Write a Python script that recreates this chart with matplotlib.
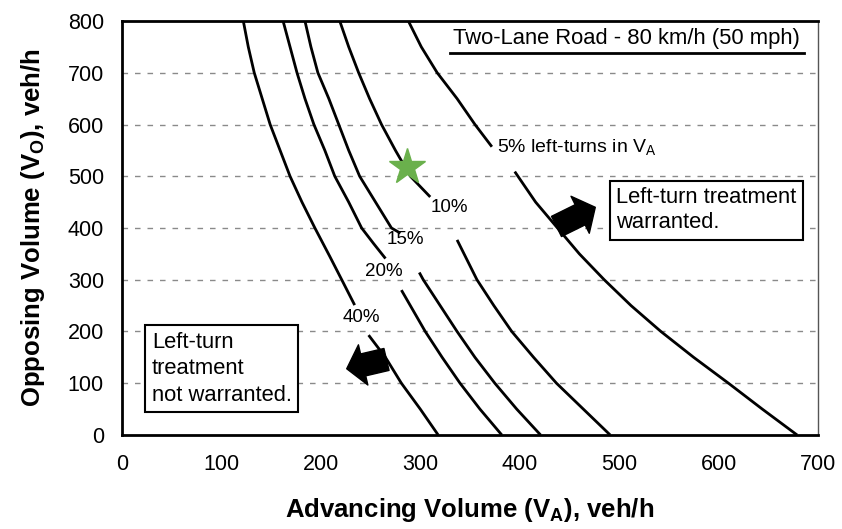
import matplotlib
matplotlib.use("Agg")
import matplotlib.pyplot as plt

plt.rcParams["font.family"] = ["Liberation Sans", "DejaVu Sans"]

# curves: (V_A, V_O) points, split where the label sits
CURVES = {
    "40%": [
        ([122, 127, 133, 141, 149, 159, 169, 181, 194, 209, 221, 234],
         [800, 750, 700, 650, 600, 550, 500, 450, 400, 345, 300, 251]),
        ([248, 265, 281, 300, 318], [193, 150, 100, 50, 0]),
    ],
    "20%": [
        ([162, 169, 176, 184, 193, 204, 214, 228, 241, 253, 265],
         [800, 750, 700, 650, 600, 550, 500, 450, 400, 370, 341]),
        ([281, 290, 305, 322, 340, 360, 382], [280, 250, 200, 150, 100, 50, 0]),
    ],
    "15%": [
        ([184, 190, 197, 208, 218, 228, 239, 255, 271, 280],
         [800, 750, 700, 650, 600, 550, 500, 450, 400, 390]),
        ([299, 303, 320, 337, 355, 375, 397, 421], [314, 300, 250, 200, 150, 100, 50, 0]),
    ],
    "10%": [
        ([219, 228, 238, 249, 261, 275, 290, 310], [800, 750, 700, 650, 600, 550, 500, 460]),
        ([337, 357, 374, 392, 414, 437, 464, 491], [377, 300, 250, 200, 150, 100, 50, 0]),
    ],
    "5%": [
        ([288, 301, 317, 337, 355, 372], [800, 750, 700, 650, 600, 557]),
        ([395, 416, 438, 460, 485, 512, 542, 575, 610, 644, 679],
         [509, 450, 400, 350, 300, 250, 200, 150, 100, 50, 0]),
    ],
}
LABEL_POS = {
    "40%": (241, 228),
    "20%": (263, 316),
    "15%": (285, 377),
    "10%": (329, 439),
}
STAR = (287, 518)
X_TICKS = [0, 100, 200, 300, 400, 500, 600, 700]
Y_TICKS = [0, 100, 200, 300, 400, 500, 600, 700, 800]

fig = plt.figure(figsize=(8.42, 5.29), dpi=100)
ax = fig.add_axes([0.1449, 0.1777, 0.8266, 0.7826])

for y in Y_TICKS[1:-1]:
    ax.axhline(y, color="#8a8a8a", linestyle=(0, (4, 5)), linewidth=1.0, zorder=1)

for name, segs in CURVES.items():
    for xs, ys in segs:
        ax.plot(xs, ys, color="black", linewidth=2.0, zorder=3,
                solid_capstyle="butt", solid_joinstyle="round")

for name, (x, y) in LABEL_POS.items():
    ax.text(x, y, name, fontsize=13.5, ha="center", va="center", zorder=4)

ax.text(377, 555, "5% left-turns in V$_\\mathregular{A}$", fontsize=14,
        ha="left", va="center", zorder=4)

ax.plot(*STAR, marker="*", markersize=27, color="#6ab04c", markeredgecolor="#6ab04c",
        zorder=5)

# title with underline
ax.text(507, 767, "Two-Lane Road - 80 km/h (50 mph)", fontsize=15.8, ha="center",
        va="center")
ax.plot([330, 686], [738, 738], color="black", linewidth=2.0)

ax.text(497, 434, "Left-turn treatment\nwarranted.", fontsize=15.8, ha="left",
        va="center", linespacing=1.25,
        bbox=dict(boxstyle="square,pad=0.3", facecolor="white", edgecolor="black",
                  linewidth=1.5))
ax.text(30, 128, "Left-turn\ntreatment\nnot warranted.", fontsize=15.8, ha="left",
        va="center", linespacing=1.35,
        bbox=dict(boxstyle="square,pad=0.3", facecolor="white", edgecolor="black",
                  linewidth=1.5))

arrow = "simple,head_length=0.45,head_width=1.1,tail_width=0.6"
ax.annotate("", xy=(476, 440), xytext=(437, 403),
            arrowprops=dict(arrowstyle=arrow, color="black", mutation_scale=27,
                            shrinkA=0, shrinkB=0), zorder=4)
ax.annotate("", xy=(226, 128), xytext=(266, 146),
            arrowprops=dict(arrowstyle=arrow, color="black", mutation_scale=27,
                            shrinkA=0, shrinkB=0), zorder=4)

ax.set_xlim(0, 700)
ax.set_ylim(0, 800)
ax.set_xticks(X_TICKS)
ax.set_yticks(Y_TICKS)
ax.tick_params(length=0, labelsize=15.5, pad=13)
ax.tick_params(axis="x", pad=14)
for side in ("left", "bottom", "top"):
    ax.spines[side].set_linewidth(2.0)
ax.spines["right"].set_linewidth(1.0)
ax.spines["right"].set_color("#555555")

ax.set_xlabel("Advancing Volume (V$_\\mathregular{A}$), veh/h", fontsize=18.5,
              fontweight="bold", labelpad=15)
ax.set_ylabel("Opposing Volume (V$_\\mathregular{O}$), veh/h", fontsize=18.5,
              fontweight="bold", labelpad=15)

fig.savefig("out.png", dpi=100)
